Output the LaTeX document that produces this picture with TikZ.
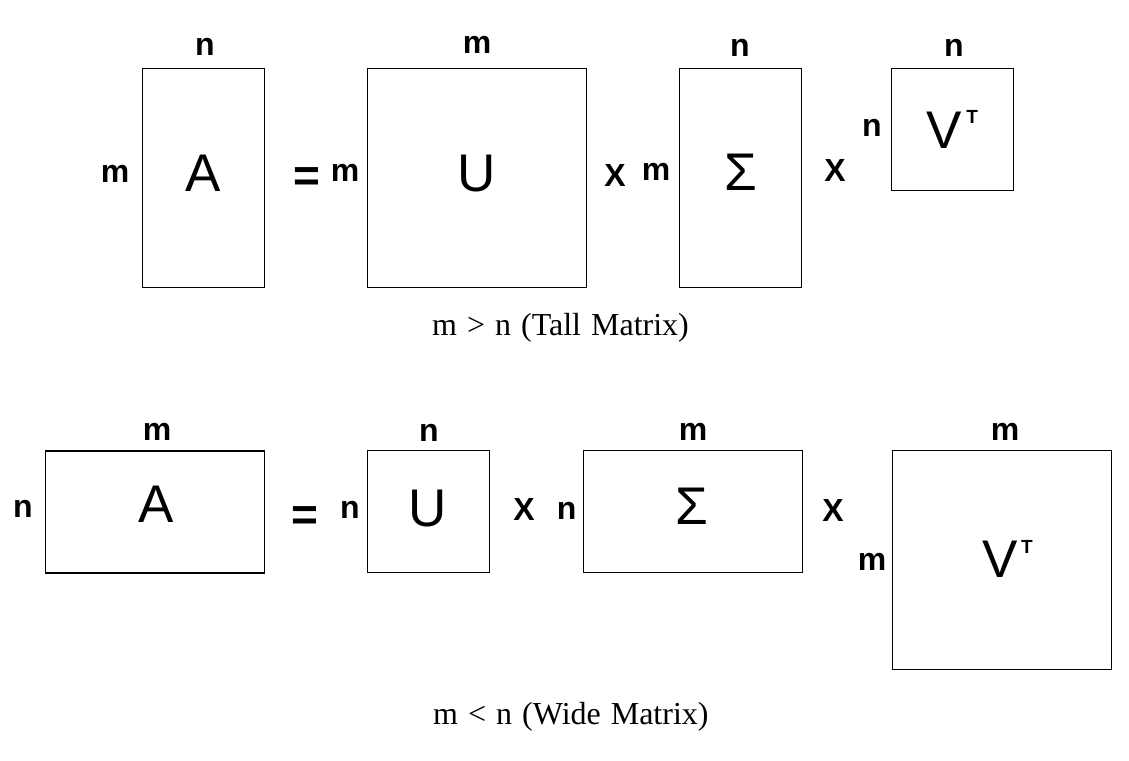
\documentclass[tikz,border=0pt]{standalone}
\usepackage{fontspec}
\setmainfont{Liberation Serif}
\newfontfamily\arialfont{Liberation Sans}
\usetikzlibrary{positioning}
\newcommand\wordsp{\spaceskip=10pt\relax}

\begin{document}
\begin{tikzpicture}[x=1pt,y=-1pt,
  mat/.style={draw,line width=1.5pt,inner sep=0pt},
  dim/.style={inner sep=0pt,font=\arialfont\bfseries\fontsize{32}{32}\selectfont},
  big/.style={inner sep=0pt,font=\arialfont\fontsize{53}{53}\selectfont},
  eqsign/.style={inner sep=0pt,anchor=base,font=\arialfont\bfseries\fontsize{46}{46}\selectfont},
  supT/.style={inner sep=0pt,anchor=north west,font=\arialfont\bfseries\fontsize{19}{19}\selectfont},
  caplabel/.style={inner sep=0pt,anchor=base west,font=\fontsize{32}{38}\selectfont}]
  \useasboundingbox (0,0) rectangle (1129,760);

  % m > n
  \node[mat,minimum width=122,minimum height=219] (A1) at (203.3,177.8) {};
  \node[mat,minimum width=219,minimum height=219] (U1) at (477,177.8) {};
  \node[mat,minimum width=122,minimum height=219] (S1) at (740.4,177.8) {};
  \node[mat,minimum width=122,minimum height=122] (V1) at (952.4,129.4) {};
  \node[big] (a1) at (203,173) {A};
  \node[big] (u1) at (477,174) {U};
  \node[big] (s1) at (741,172) {Σ};
  \node[big] (v1) at (944.3,130.5) {V};
  \node[supT] (t1) at ([xshift=4pt,yshift=2pt]v1.north east) {T};
  \node[dim] (a1top) at (205,47) {n};
  \node[dim] (a1left) at (115,174) {m};
  \node[eqsign] (eq1) at (306.7,191) {=};
  \node[dim] (u1left) at (345,173) {m};
  \node[dim] (u1top) at (477,45) {m};
  \node[dim] (x1) at (615,175) {X};
  \node[dim] (s1left) at (656,172) {m};
  \node[dim] (s1top) at (740,48) {n};
  \node[dim] (x2) at (835,170) {X};
  \node[dim] (v1left) at (872,128) {n};
  \node[dim] (v1top) at (954,48) {n};
  \node[caplabel] (tall) at (432,335) {\wordsp m > n (Tall Matrix)};

  % m < n
  \node[mat,minimum width=219,minimum height=122] (A2) at (154.8,512) {};
  \node[mat,minimum width=122,minimum height=122] (U2) at (428.3,511.5) {};
  \node[mat,minimum width=219,minimum height=122] (S2) at (692.8,511.5) {};
  \node[mat,minimum width=219,minimum height=219] (V2) at (1001.9,560) {};
  \node[big] (a2) at (155.7,504) {A};
  \node[big] (u2) at (428,509) {U};
  \node[big] (s2) at (691.7,506) {Σ};
  \node[big] (v2) at (1000,559) {V};
  \node[supT] (t2) at ([xshift=3pt,yshift=0pt]v2.north east) {T};
  \node[dim] (a2top) at (157,432) {m};
  \node[dim] (a2left) at (23,509) {n};
  \node[eqsign] (eq2) at (305,530.5) {=};
  \node[dim] (u2left) at (350,510) {n};
  \node[dim] (u2top) at (429,433) {n};
  \node[dim] (x3) at (524,509) {X};
  \node[dim] (s2left) at (566.7,511) {n};
  \node[dim] (s2top) at (693,432) {m};
  \node[dim] (x4) at (833,510) {X};
  \node[dim] (v2left) at (872,562) {m};
  \node[dim] (v2top) at (1005,432) {m};
  \node[caplabel] (wide) at (433,724) {\wordsp m < n (Wide Matrix)};
\end{tikzpicture}
\end{document}
